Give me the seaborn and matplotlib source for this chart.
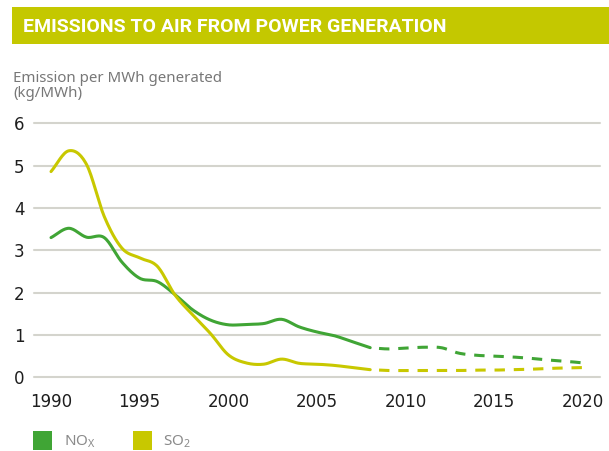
import numpy as np
import pandas as pd
import seaborn as sns
import matplotlib.pyplot as plt
from matplotlib.patches import Rectangle

# Emission per MWh generated (kg/MWh)
years_hist = list(range(1990, 2009))
nox_hist = [3.30, 3.52, 3.31, 3.30, 2.72, 2.34, 2.26, 1.95, 1.59, 1.35,
            1.24, 1.25, 1.27, 1.37, 1.19, 1.07, 0.98, 0.84, 0.70]
so2_hist = [4.86, 5.35, 5.03, 3.80, 3.05, 2.82, 2.62, 1.94, 1.47, 1.03,
            0.53, 0.34, 0.31, 0.43, 0.33, 0.31, 0.28, 0.23, 0.18]

# projection (dashed)
years_proj = list(range(2008, 2021))
nox_proj = [0.70, 0.67, 0.69, 0.71, 0.70, 0.57, 0.52, 0.50, 0.48, 0.45, 0.41, 0.38, 0.34]
so2_proj = [0.18, 0.16, 0.16, 0.16, 0.16, 0.16, 0.17, 0.17, 0.18, 0.19, 0.21, 0.22, 0.23]

xticks = [1990, 1995, 2000, 2005, 2010, 2015, 2020]
yticks = [0, 1, 2, 3, 4, 5, 6]

GREEN = "#40a535"
YELLOW = "#c8c800"
BAR = "#c4c800"


def smooth(x, y, n=16):
    # Catmull-Rom curve through the points, like the smoothed lines of the original
    x = np.asarray(x, float)
    y = np.asarray(y, float)
    px = np.r_[2 * x[0] - x[1], x, 2 * x[-1] - x[-2]]
    py = np.r_[2 * y[0] - y[1], y, 2 * y[-1] - y[-2]]
    t = np.linspace(0, 1, n, endpoint=False)
    out = []
    for arr in (px, py):
        seg = []
        for i in range(1, len(arr) - 2):
            a0, a1, a2, a3 = arr[i - 1:i + 3]
            seg.append(0.5 * (2 * a1 + (-a0 + a2) * t
                              + (2 * a0 - 5 * a1 + 4 * a2 - a3) * t ** 2
                              + (-a0 + 3 * a1 - 3 * a2 + a3) * t ** 3))
        seg.append([arr[-2]])
        out.append(np.concatenate(seg))
    return out


frames = []
for gas, yrs, vals, kind in [("NOx", years_hist, nox_hist, "actual"),
                             ("SO2", years_hist, so2_hist, "actual"),
                             ("NOx", years_proj, nox_proj, "projected"),
                             ("SO2", years_proj, so2_proj, "projected")]:
    sx, sy = smooth(yrs, vals)
    frames.append(pd.DataFrame({"year": sx, "value": sy, "gas": gas, "kind": kind}))
df = pd.concat(frames, ignore_index=True)

sns.set_style("white")
plt.rcParams["font.family"] = ["DejaVu Sans"]

W, H = 609, 451
fig = plt.figure(figsize=(W / 100, H / 100), dpi=100)
ax = fig.add_axes([34 / W, 1 - 377.3 / H, 566 / W, 254 / H])

sns.lineplot(
    data=df, x="year", y="value", hue="gas", style="kind",
    palette={"NOx": GREEN, "SO2": YELLOW},
    dashes={"actual": "", "projected": (3.4, 2.9)},
    estimator=None, sort=False, linewidth=2.2, legend=False, ax=ax,
)
for ln in ax.get_lines():
    if ln.get_linestyle() == "--":
        ln.set_linestyle((3.4, (3.4, 2.9)))

ax.set_xlim(1989.04, 2020.96)
ax.set_ylim(0, 6)
ax.set_xticks(xticks)
ax.set_yticks(yticks)
ax.set_xlabel("")
ax.set_ylabel("")
ax.yaxis.grid(True, color="#d4d4cd", linewidth=1.5)
ax.xaxis.grid(False)
ax.set_axisbelow(True)
for gl in ax.get_ygridlines():
    gl.set_clip_on(False)
for s in ax.spines.values():
    s.set_visible(False)
ax.tick_params(axis="both", length=0, labelsize=12, labelcolor="#1e1e1e")
ax.tick_params(axis="x", pad=11)
ax.tick_params(axis="y", pad=7)

# title bar
fig.add_artist(Rectangle((12.3 / W, 1 - 44.3 / H), 1 - 12.3 / W, 37 / H,
                         transform=fig.transFigure, facecolor=BAR, edgecolor="none"))
fig.text(22.7 / W, 1 - 26.7 / H, "EMISSIONS TO AIR FROM POWER GENERATION",
         color="white", fontsize=14, fontweight="bold", family="Roboto", va="center")

# axis caption
fig.text(13 / W, 1 - 81.7 / H, "Emission per MWh generated", color="#777777",
         fontsize=10.8, family="Noto Sans", va="baseline")
fig.text(13 / W, 1 - 96.7 / H, "(kg/MWh)", color="#777777",
         fontsize=10.8, family="Noto Sans", va="baseline")

# legend
for x0, col, x_txt, label in [(33.3, GREEN, 64, r"NO$_\mathregular{X}$"),
                              (133.3, YELLOW, 163.3, r"SO$_\mathregular{2}$")]:
    fig.add_artist(Rectangle((x0 / W, 1 - 450 / H), 18.4 / W, 19.3 / H,
                             transform=fig.transFigure, facecolor=col, edgecolor="none"))
    fig.text(x_txt / W, 1 - 445 / H, label, color="#8a8a8a", fontsize=11,
             family="Noto Sans", va="baseline")

fig.savefig("out.png", dpi=100)
